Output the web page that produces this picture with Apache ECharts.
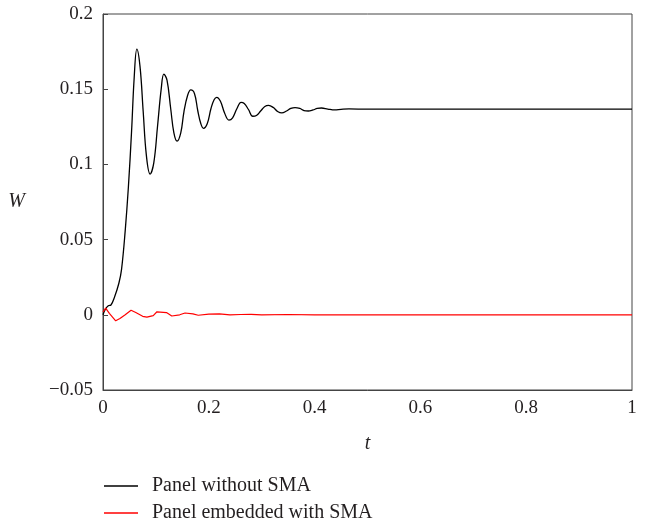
<!DOCTYPE html>
<html>
<head>
<meta charset="utf-8">
<script src="https://cdn.jsdelivr.net/npm/echarts@6/dist/echarts.min.js"></script>
<style>html,body{margin:0;padding:0;background:#fff}#c{width:645px;height:526px}</style>
</head>
<body>
<div id="c"></div>
<script>
var seriesNames = ['Panel without SMA', 'Panel embedded with SMA'];
var xTicks = [0, 0.2, 0.4, 0.6, 0.8, 1];
var yTicks = [-0.05, 0, 0.05, 0.1, 0.15, 0.2];

var tBlack = [0, 0.005, 0.01, 0.015, 0.022, 0.03, 0.035, 0.042, 0.048, 0.054, 0.059, 0.064, 0.07, 0.076, 0.082, 0.089, 0.096, 0.103, 0.11, 0.115, 0.121, 0.128, 0.134, 0.140, 0.147, 0.153, 0.160, 0.166, 0.173, 0.179, 0.185, 0.190, 0.197, 0.204, 0.210, 0.215, 0.222, 0.230, 0.238, 0.245, 0.253, 0.261, 0.267, 0.275, 0.283, 0.290, 0.298, 0.306, 0.313, 0.322, 0.330, 0.338, 0.347, 0.355, 0.363, 0.372, 0.380, 0.388, 0.397, 0.405, 0.413, 0.425, 0.438, 0.45, 0.465, 0.5, 0.6, 0.7, 0.8, 0.9, 1.0];
var wBlack = [0, 0.004, 0.006, 0.0065, 0.012, 0.021, 0.03, 0.056, 0.085, 0.122, 0.158, 0.1767, 0.165, 0.135, 0.106, 0.0936, 0.101, 0.125, 0.150, 0.160, 0.156, 0.137, 0.121, 0.1155, 0.121, 0.135, 0.146, 0.1495, 0.147, 0.136, 0.127, 0.124, 0.127, 0.137, 0.143, 0.1446, 0.142, 0.134, 0.1295, 0.131, 0.137, 0.1413, 0.1405, 0.1365, 0.132, 0.1325, 0.1355, 0.1385, 0.1392, 0.1378, 0.1352, 0.1342, 0.1355, 0.1372, 0.1378, 0.1372, 0.1358, 0.1355, 0.1362, 0.1372, 0.1375, 0.1368, 0.1362, 0.1366, 0.1369, 0.1367, 0.1367, 0.1367, 0.1367, 0.1367, 0.1367];

var tRed = [0, 0.005, 0.012, 0.024, 0.032, 0.042, 0.053, 0.062, 0.075, 0.083, 0.095, 0.102, 0.12, 0.13, 0.145, 0.155, 0.17, 0.18, 0.2, 0.22, 0.24, 0.26, 0.28, 0.3, 0.35, 0.4, 0.5, 0.6, 0.7, 0.8, 0.9, 1.0];
var wRed = [0.002, 0.0045, 0.001, -0.004, -0.0025, 0.0, 0.003, 0.0015, -0.001, -0.0015, -0.0005, 0.002, 0.0015, -0.0008, 0.0, 0.0012, 0.0006, -0.0003, 0.0005, 0.0006, -0.0001, 0.0002, 0.0003, 0.0, 0.0002, 0.0, 0.0, 0.0, 0.0, 0.0, 0.0, 0.0];

function pairs(t, w) { return t.map(function (v, i) { return [v, w[i]]; }); }

var FONT = 'Liberation Serif';
var axisCol = '#444';
var txtCol = '#231f20';

function legendFor(i, top) {
  return {
    orient: 'vertical', left: 104, top: top, padding: 0,
    itemWidth: 34, itemHeight: 1.5, icon: 'rect',
    textStyle: { fontFamily: FONT, fontSize: 20, color: txtCol, lineHeight: 20, padding: [0, 0, 0, 9] },
    data: [seriesNames[i]]
  };
}

var chart = echarts.init(document.getElementById('c'), null, { renderer: 'canvas' });
chart.setOption({
  animation: false,
  backgroundColor: '#fff',
  grid: { left: 103, top: 14, right: 13, bottom: 136, show: true, borderColor: axisCol, borderWidth: 1, backgroundColor: 'transparent' },
  xAxis: {
    type: 'value', min: xTicks[0], max: xTicks[xTicks.length - 1], interval: 0.2,
    name: 't', nameLocation: 'middle', nameGap: 44,
    nameTextStyle: { fontFamily: FONT, fontStyle: 'italic', fontSize: 20, color: txtCol },
    axisLine: { show: true, onZero: false, lineStyle: { color: axisCol, width: 1 } },
    axisTick: { show: false },
    axisLabel: { fontFamily: FONT, fontSize: 19, color: txtCol, margin: 9, formatter: function (v) { return String(+v.toFixed(2)); } },
    splitLine: { show: false }
  },
  yAxis: {
    type: 'value', min: yTicks[0], max: yTicks[yTicks.length - 1], interval: 0.05,
    name: 'W', nameLocation: 'middle', nameGap: 78, nameRotate: 0,
    nameTextStyle: { fontFamily: FONT, fontStyle: 'italic', fontSize: 20, color: txtCol },
    axisLine: { show: true, onZero: false, lineStyle: { color: axisCol, width: 1 } },
    axisTick: { show: true, inside: true, length: 5, lineStyle: { color: axisCol } },
    axisLabel: { fontFamily: FONT, fontSize: 19, color: txtCol, margin: 10, formatter: function (v) { return String(+v.toFixed(2)).replace('-', '\u2212'); } },
    splitLine: { show: false }
  },
  legend: [legendFor(0, 476), legendFor(1, 503)],
  series: [
    { name: seriesNames[0], type: 'line', data: pairs(tBlack, wBlack), showSymbol: false, smooth: 0.4, color: '#000', lineStyle: { color: '#000', width: 1.3 } },
    { name: seriesNames[1], type: 'line', data: pairs(tRed, wRed), showSymbol: false, smooth: false, color: '#ff0000', lineStyle: { color: '#ff0000', width: 1.2 } }
  ]
});
</script>
</body>
</html>
